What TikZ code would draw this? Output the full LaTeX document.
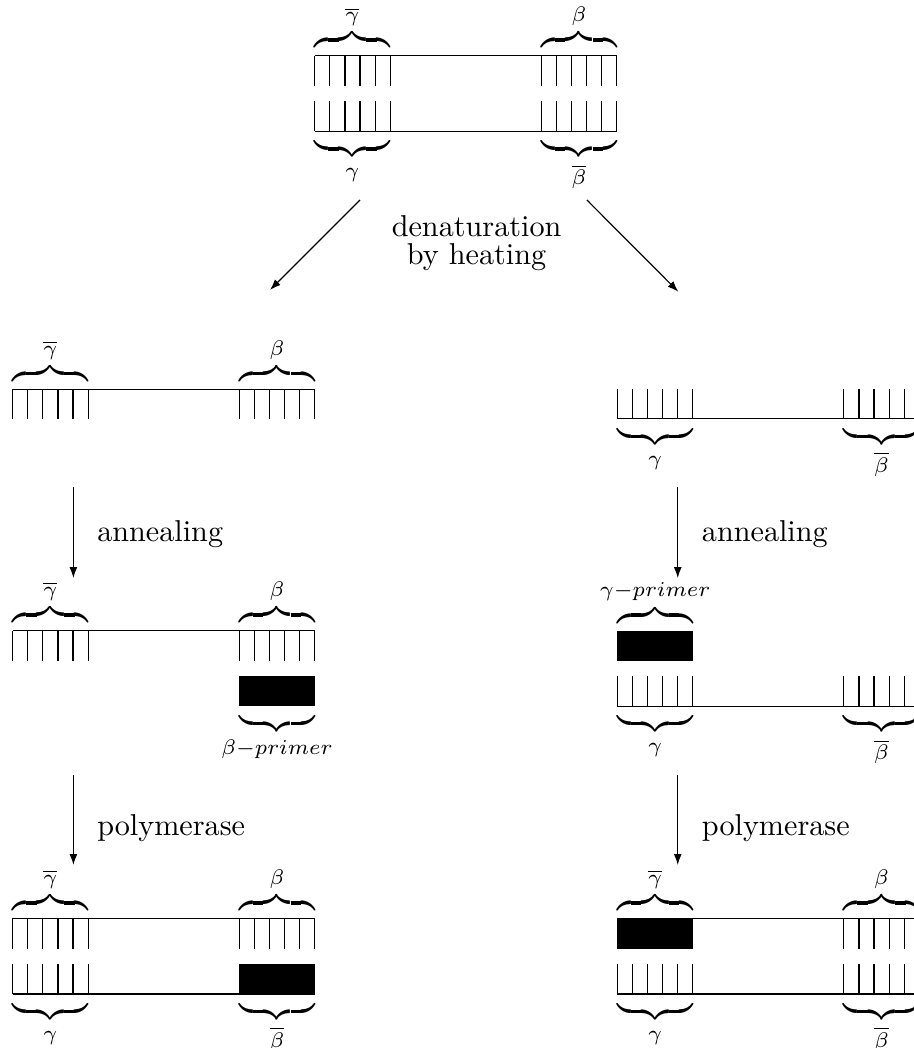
\documentclass[tikz,border=0pt]{standalone}
\usepackage{amsmath,amssymb}
\usetikzlibrary{arrows.meta,positioning}

\begin{document}
\begin{tikzpicture}[x=1pt, y=1pt,
    strand/.style={line width=0.4pt},
    primer/.style={fill=black},
    obrace/.style={anchor=south, inner sep=0pt, yshift=1.4pt},
    ubrace/.style={anchor=north, inner sep=0pt, yshift=-2pt},
    lbl/.style={anchor=base west, inner sep=0pt},
    ctext/.style={anchor=base, inner sep=0pt},
    arr/.style={-{Latex[length=3.6pt,width=2.6pt]}, line width=0.4pt}
]
    \useasboundingbox (0,0) rectangle (302.6,-347);

    % backbones of the strands
    \foreach \x/\y in {104.2/-18.5, 104.2/-43.5, 4.2/-128.9, 204.4/-138.7, 4.2/-208.8, 204.4/-233.8, 4.2/-304.1, 4.2/-329.1, 204.4/-304.1, 204.4/-329.1}
        \draw[strand] (\x,\y) -- ++(100,0);

    % bases: block start / backbone / direction of the ticks
    \foreach \x/\y/\d in {104.2/-18.5/-1, 179.2/-18.5/-1, 104.2/-43.5/1, 179.2/-43.5/1,
                          4.2/-128.9/-1, 79.2/-128.9/-1, 204.4/-138.7/1, 279.4/-138.7/1,
                          4.2/-208.8/-1, 79.2/-208.8/-1, 204.4/-233.8/1, 279.4/-233.8/1,
                          4.2/-304.1/-1, 79.2/-304.1/-1, 4.2/-329.1/1,
                          279.4/-304.1/-1, 204.4/-329.1/1, 279.4/-329.1/1}
        \foreach \t in {0,5,...,25}
            \draw[strand] (\x+\t,\y) -- ++(0,10*\d);

    % primers
    \foreach \x/\y in {79.2/-223.8, 204.4/-208.9, 79.2/-319.1, 204.4/-304.1}
        \fill[primer] (\x,\y) rectangle ++(25,-10);

    % braces above
    \foreach \x/\y/\lab [count=\i] in {116.7/-18.5/\overline{\gamma}, 191.7/-18.5/\beta,
            16.7/-128.9/\overline{\gamma}, 91.7/-128.9/\beta,
            16.7/-208.8/\overline{\gamma}, 91.7/-208.8/\beta, 216.9/-208.9/\gamma-primer,
            16.7/-304.1/\overline{\gamma}, 91.7/-304.1/\beta,
            216.9/-304.1/\overline{\gamma}, 291.9/-304.1/\beta}
        \node[obrace] (over\i) at (\x,\y) {$\overbrace{\hspace{25pt}}^{\lab}$};

    % braces below
    \foreach \x/\y/\lab [count=\i] in {116.7/-43.5/\gamma, 191.7/-43.5/\overline{\beta},
            216.9/-138.7/\gamma, 291.9/-138.7/\overline{\beta},
            91.7/-233.8/\beta-primer, 216.9/-233.8/\gamma, 291.9/-233.8/\overline{\beta},
            16.7/-329.1/\gamma, 91.7/-329.1/\overline{\beta},
            216.9/-329.1/\gamma, 291.9/-329.1/\overline{\beta}}
        \node[ubrace] (under\i) at (\x,\y) {$\underbrace{\hspace{25pt}}_{\lab}$};

    % steps
    \node[ctext] (denat) at (157.8,-78.4) {denaturation};
    \node[ctext] (heat) at (157.8,-87.7) {by heating};
    \node[lbl] (annl) at (32.0,-179.2) {annealing};
    \node[lbl] (annr) at (232.2,-179.2) {annealing};
    \node[lbl] (polyl) at (32.0,-276.5) {polymerase};
    \node[lbl] (polyr) at (232.2,-276.5) {polymerase};

    \coordinate (dl1) at (119.2,-66.2);
    \coordinate (dl2) at (89.4,-96.0);
    \coordinate (dr1) at (194.3,-66.2);
    \coordinate (dr2) at (224.6,-96.6);
    \coordinate (al1) at (24.3,-161.2);
    \coordinate (al2) at (24.3,-191.4);
    \coordinate (ar1) at (224.4,-161.2);
    \coordinate (ar2) at (224.4,-191.4);
    \coordinate (pl1) at (24.3,-256.6);
    \coordinate (pl2) at (24.3,-286.4);
    \coordinate (pr1) at (224.4,-256.6);
    \coordinate (pr2) at (224.4,-286.4);

    \draw[arr] (dl1) -- (dl2);
    \draw[arr] (dr1) -- (dr2);
    \draw[arr] (al1) -- (al2);
    \draw[arr] (ar1) -- (ar2);
    \draw[arr] (pl1) -- (pl2);
    \draw[arr] (pr1) -- (pr2);
\end{tikzpicture}
\end{document}
